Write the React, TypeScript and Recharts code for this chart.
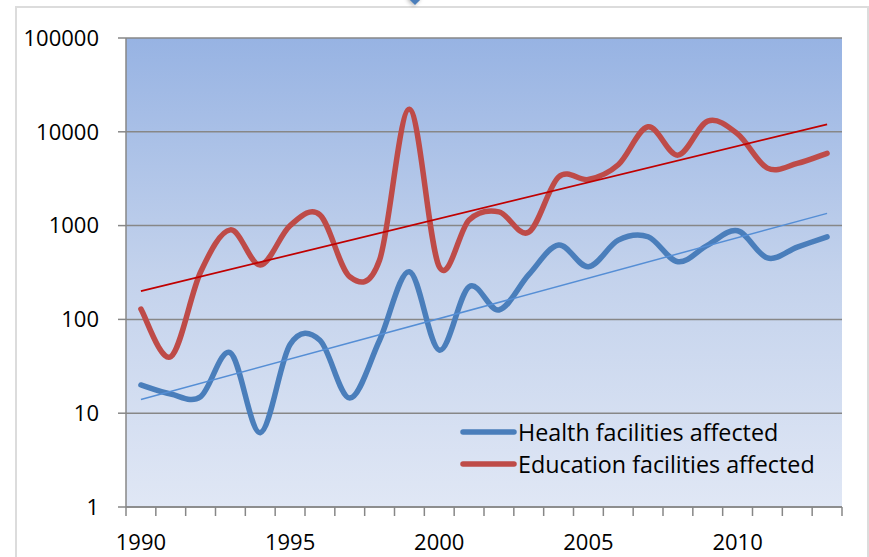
import React from 'react';
import { LineChart, Line, XAxis, YAxis, CartesianGrid, Legend } from 'recharts';

const years = [1990, 1991, 1992, 1993, 1994, 1995, 1996, 1997, 1998, 1999, 2000, 2001, 2002, 2003, 2004, 2005, 2006, 2007, 2008, 2009, 2010, 2011, 2012, 2013];
const health = [20, 16, 15, 44, 6.2, 54, 60, 14.5, 60, 322, 47, 223, 126, 300, 620, 364, 700, 760, 412, 620, 880, 452, 590, 760];
const education = [129, 40, 320, 900, 380, 1000, 1300, 285, 430, 17400, 364, 1150, 1400, 850, 3300, 3100, 4450, 11300, 5640, 13000, 9500, 4100, 4600, 5900];
// exponential trend lines, only start and end values (straight on log axis)
const healthTrendEnds = [14, 1350];
const educationTrendEnds = [200, 12000];
const yTicks = [1, 10, 100, 1000, 10000, 100000];
const labelYears = [1990, 1995, 2000, 2005, 2010];

const last = years.length - 1;
const data = years.map((year, i) => ({
  year,
  health: health[i],
  education: education[i],
  healthTrend: i === 0 ? healthTrendEnds[0] : i === last ? healthTrendEnds[1] : null,
  educationTrend: i === 0 ? educationTrendEnds[0] : i === last ? educationTrendEnds[1] : null,
}));

const xTicks = [...years.map(y => y - 0.5), years[last] + 0.5, ...labelYears].sort((a, b) => a - b);

const FONT = '"Open Sans", "Liberation Sans", sans-serif';
const GRID = '#878787';

// Excel-like smoothing (Catmull-Rom through every point)
const excelSmooth: any = (context: any) => {
  let pts: number[][] = [];
  return {
    areaStart() {},
    areaEnd() {},
    lineStart() { pts = []; },
    point(x: number, y: number) { pts.push([+x, +y]); },
    lineEnd() {
      if (!pts.length) return;
      context.moveTo(pts[0][0], pts[0][1]);
      for (let i = 0; i < pts.length - 1; i++) {
        const p0 = pts[Math.max(0, i - 1)];
        const p1 = pts[i];
        const p2 = pts[i + 1];
        const p3 = pts[Math.min(pts.length - 1, i + 2)];
        context.bezierCurveTo(
          p1[0] + (p2[0] - p0[0]) / 6, p1[1] + (p2[1] - p0[1]) / 6,
          p2[0] - (p3[0] - p1[0]) / 6, p2[1] - (p3[1] - p1[1]) / 6,
          p2[0], p2[1]
        );
      }
    },
  };
};

const XTick = (props: any) => {
  const { x, y, payload } = props;
  const v = payload.value;
  if (labelYears.includes(v)) {
    return (
      <text x={x} y={y + 27} dy="0.71em" textAnchor="middle" fill="#000" fontSize={22} fontFamily={FONT}>{v}</text>
    );
  }
  return <line x1={x} x2={x} y1={y} y2={y + 9} stroke={GRID} strokeWidth={1.5} />;
};

const legendItems = [
  { label: 'Health facilities affected', color: '#4A7EBB' },
  { label: 'Education facilities affected', color: '#BE4B48' },
];

const renderLegend = () => (
  <div style={{ fontFamily: FONT, fontSize: 23.3, color: '#000' }}>
    {legendItems.map(item => (
      <div key={item.label} style={{ display: 'flex', alignItems: 'center', height: 32 }}>
        <svg width={58} height={10} style={{ marginRight: 1 }}>
          <line x1={4} x2={55} y1={5} y2={5} stroke={item.color} strokeWidth={5.5} strokeLinecap="round" />
        </svg>
        <span style={{ lineHeight: '32px' }}>{item.label}</span>
      </div>
    ))}
  </div>
);

export default function App() {
  return (
    <div style={{ position: 'absolute', left: 0, top: 0, width: 869, height: 557, overflow: 'hidden', background: '#fff' }}>
      <div style={{ position: 'absolute', left: 15, top: 6, width: 850, height: 600, border: '2px solid #dcdcdc' }} />
      <div style={{ position: 'absolute', left: 410, top: -7, width: 10, height: 10, background: '#4A7EBB', transform: 'rotate(45deg)', boxShadow: '0 2px 4px rgba(0,0,0,0.25)' }} />
      <div style={{ position: 'absolute', left: 0, top: 0 }}>
        <LineChart width={869} height={557} data={data} margin={{ top: 38, right: 27, bottom: 10, left: 16 }}>
          <defs>
            <linearGradient id="plotBg" x1="0" y1="0" x2="0" y2="1">
              <stop offset="0%" stopColor="#97B3E3" />
              <stop offset="50%" stopColor="#C3D2EC" />
              <stop offset="100%" stopColor="#E0E7F5" />
            </linearGradient>
          </defs>
          <CartesianGrid vertical={false} fill="url(#plotBg)" stroke={GRID} strokeWidth={1.5} />
          <XAxis
            dataKey="year"
            type="number"
            domain={[1989.5, 2013.5]}
            ticks={xTicks}
            interval={0}
            height={40}
            tickSize={0}
            tickMargin={0}
            tickLine={false}
            tick={<XTick />}
            axisLine={{ stroke: GRID, strokeWidth: 1.5 }}
          />
          <YAxis
            type="number"
            scale="log"
            domain={[1, 100000]}
            ticks={yTicks}
            allowDataOverflow
            interval={0}
            width={110}
            tickSize={8}
            tickMargin={19}
            tickLine={{ stroke: GRID, strokeWidth: 1.5 }}
            axisLine={{ stroke: GRID, strokeWidth: 1.5 }}
            tick={{ fill: '#000', fontSize: 22, fontFamily: FONT }}
          />
          <Legend layout="vertical" verticalAlign="middle" align="center" content={renderLegend} wrapperStyle={{ left: 459, top: 416, width: 400 }} />
          <Line dataKey="health" type={excelSmooth} stroke="#4A7EBB" strokeWidth={5.5} strokeLinecap="round" dot={false} activeDot={false} isAnimationActive={false} />
          <Line dataKey="education" type={excelSmooth} stroke="#BE4B48" strokeWidth={5.5} strokeLinecap="round" dot={false} activeDot={false} isAnimationActive={false} />
          <Line dataKey="healthTrend" type="linear" connectNulls stroke="#558ED5" strokeWidth={1.5} dot={false} activeDot={false} legendType="none" isAnimationActive={false} />
          <Line dataKey="educationTrend" type="linear" connectNulls stroke="#C00000" strokeWidth={1.75} dot={false} activeDot={false} legendType="none" isAnimationActive={false} />
        </LineChart>
      </div>
    </div>
  );
}
